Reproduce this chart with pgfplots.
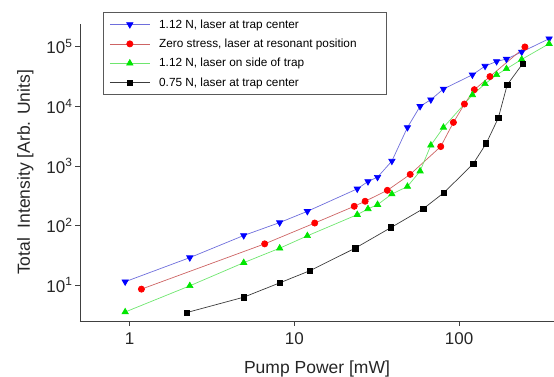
\documentclass[border=0pt]{standalone}
\usepackage{fontspec}
\setmainfont{Liberation Sans}
\usepackage{pgfplots}
\pgfplotsset{compat=1.18}
\definecolor{mblue}{RGB}{0,0,255}
\definecolor{lblue}{RGB}{110,110,220}
\definecolor{mred}{RGB}{255,0,0}
\definecolor{lred}{RGB}{205,100,100}
\definecolor{mgreen}{RGB}{0,230,0}
\definecolor{lgreen}{RGB}{110,230,110}
\definecolor{lblack}{RGB}{60,60,60}
\begin{document}
\begin{tikzpicture}
\useasboundingbox (-80pt,-56pt) rectangle (474pt,321pt);
\begin{axis}[
  scale only axis, width=474pt, height=297pt,
  xmode=log, ymode=log, log basis x=10, log basis y=10,
  xmin=0.5, xmax=377, ymin=2.5, ymax=2.4e5,
  axis lines*=left,
  axis line style={line width=0.9pt, black!75},
  tick align=outside,
  major tick length=5pt, minor tick length=3pt,
  every tick/.style={black!75, line width=0.7pt},
  xtick={1,10,100}, xticklabels={1,10,100},
  ytick={10,100,1000,10000,100000},
  yticklabels={10\textsuperscript{1},10\textsuperscript{2},10\textsuperscript{3},10\textsuperscript{4},10\textsuperscript{5}},
  ticklabel style={font=\fontsize{17}{20}\selectfont, black!85},
  xticklabel style={yshift=-3pt},
  yticklabel style={xshift=1pt},
  xlabel={Pump Power [mW]},
  ylabel={Total\ \ Intensity [Arb. Units]},
  xlabel shift=9pt, ylabel shift=6pt,
  label style={font=\fontsize{17.5}{20}\selectfont, black!85},
  legend cell align=left,
  legend style={at={(axis description cs:0.0485,1.0404)}, anchor=north west,
    font=\fontsize{11.8}{13.5}\selectfont, draw=black!65, line width=1pt,
    row sep=5.3pt, inner xsep=6pt, inner ysep=5pt},
  legend image code/.code={\draw[mark repeat=2,mark phase=2,line width=0.7pt] plot coordinates {(0pt,0pt) (20pt,0pt) (40pt,0pt)};},
]
\addplot[lblue, line width=0.7pt, mark=triangle*, mark size=3.6pt, mark options={solid, fill=mblue, draw=mblue, rotate=180}] coordinates {
(0.94,11.4) (2.32,28.9) (4.93,68) (8.15,112) (12.0,173) (24.1,412) (28.0,547) (32.0,647) (39.1,1205) (48.6,4415) (58.0,9980) (67.4,12900) (80.4,19500) (120.5,33700) (143.8,47200) (169,56500) (194,62000) (240,81400) (352,136000)};
\addlegendentry{\hspace*{7pt}1.12 N, laser at trap center}
\addplot[lred, line width=0.7pt, mark=*, mark size=3.1pt, mark options={solid, fill=mred, draw=mred}] coordinates {
(1.18,8.56) (6.61,49.2) (13.3,110) (23.1,210) (26.9,255) (36.7,389) (50.5,720) (77.4,2110) (92.4,5360) (107.8,10900) (123.8,19000) (154,31500) (251,98900)};
\addlegendentry{\hspace*{7pt}Zero stress, laser at resonant position\hspace*{22pt}}
\addplot[lgreen, line width=0.7pt, mark=triangle*, mark size=3.6pt, mark options={solid, fill=mgreen, draw=mgreen}] coordinates {
(0.94,3.54) (2.32,9.73) (4.93,23.8) (8.15,41.6) (12.0,67.1) (24.1,152) (28.0,190) (32.0,224) (39.1,337) (48.6,451) (58.0,817) (67.4,2220) (80.4,4415) (120.5,15500) (143.8,23800) (169,33700) (194,42500) (240,61100) (352,112000)};
\addlegendentry{\hspace*{7pt}1.12 N, laser on side of trap}
\addplot[lblack, line width=0.7pt, mark=square*, mark size=2.7pt, mark options={solid, fill=black, draw=black}] coordinates {
(2.22,3.46) (4.93,6.27) (8.15,10.9) (12.4,17.4) (23.4,41.6) (38.7,92.7) (60.8,192) (81.1,357) (122,1090) (146,2370) (173,6340) (196,22900) (243,51600)};
\addlegendentry{\hspace*{7pt}0.75 N, laser at trap center}
\end{axis}
\end{tikzpicture}
\end{document}
